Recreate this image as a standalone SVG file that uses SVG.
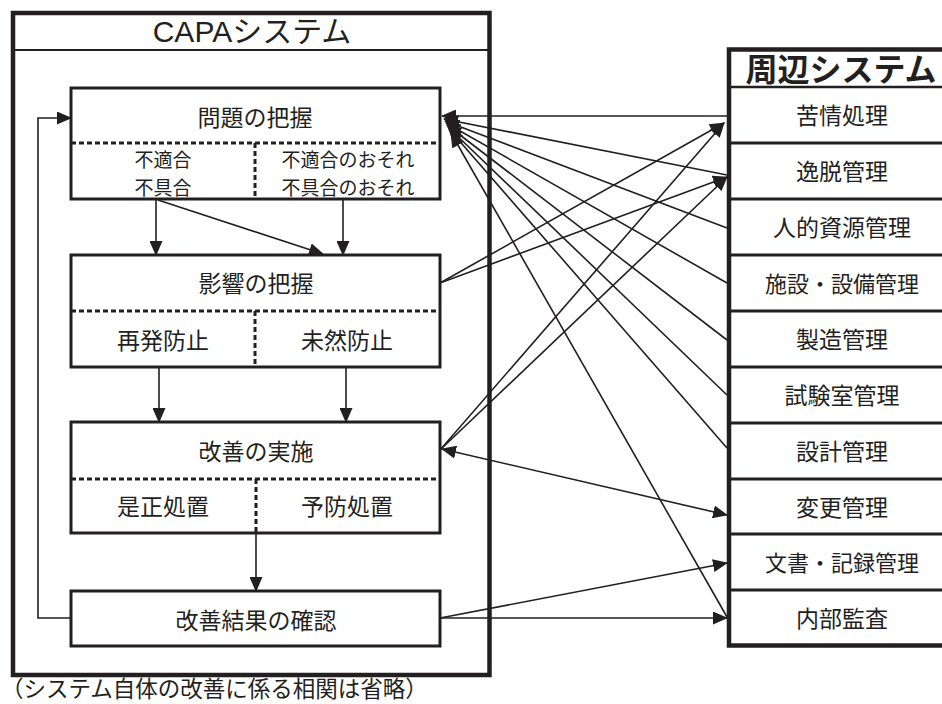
<svg xmlns="http://www.w3.org/2000/svg" width="942" height="704" viewBox="0 0 942 704">
<defs>
<marker id="ah" markerUnits="userSpaceOnUse" viewBox="0 0 15 13" refX="14" refY="6.5" markerWidth="15" markerHeight="13" orient="auto-start-reverse">
<path d="M0,0 L15,6.5 L0,13 z" fill="#231f20"/>
</marker>
</defs>
<style>
.frame{fill:none;stroke:#231f20;stroke-width:4.5}
.box{fill:#fff;stroke:#231f20;stroke-width:3}
.sep{stroke:#231f20;stroke-width:3}
.thin{stroke:#231f20;stroke-width:2}
.dot{stroke:#231f20;stroke-width:3;stroke-dasharray:5 3;fill:none}
.t{font-family:"Noto Sans CJK JP","Noto Sans CJK SC",sans-serif;font-size:23px;fill:#231f20;text-anchor:middle}
.s{font-size:19px}
.n{font-size:22px}
.c{stroke:#231f20;stroke-width:1.6;fill:none;marker-end:url(#ah)}
</style>
<rect x="0" y="0" width="942" height="704" fill="#fff"/>

<g id="capa-system">
<rect class="frame" x="13" y="13" width="476.5" height="662"/>
<line class="thin" x1="13" y1="50" x2="489.5" y2="50"/>
<text x="252" y="42" style="font-family:'Liberation Sans','Noto Sans CJK JP',sans-serif;font-size:30px;fill:#231f20;text-anchor:middle">CAPAシステム</text>
</g>

<g id="surrounding-system">
<rect class="frame" x="729" y="49.5" width="220" height="596"/>
<line class="thin" x1="729" y1="87" x2="945" y2="87" style="stroke-width:2.5"/>
<text x="841" y="81" style="font-family:'Noto Sans CJK JP',sans-serif;font-size:32px;font-weight:bold;fill:#231f20;text-anchor:middle">周辺システム</text>
<line class="sep" x1="729" y1="143" x2="945" y2="143"/>
<line class="sep" x1="729" y1="199" x2="945" y2="199"/>
<line class="sep" x1="729" y1="255" x2="945" y2="255"/>
<line class="sep" x1="729" y1="311" x2="945" y2="311"/>
<line class="sep" x1="729" y1="367" x2="945" y2="367"/>
<line class="sep" x1="729" y1="423" x2="945" y2="423"/>
<line class="sep" x1="729" y1="479" x2="945" y2="479"/>
<line class="sep" x1="729" y1="534" x2="945" y2="534"/>
<line class="sep" x1="729" y1="590" x2="945" y2="590"/>
</g>
<g id="r-kujo"><text class="t" x="842" y="124">苦情処理</text></g>
<g id="r-itsudatsu"><text class="t" x="842" y="180">逸脱管理</text></g>
<g id="r-jinteki"><text class="t" x="842" y="236">人的資源管理</text></g>
<g id="r-shisetsu"><text class="t n" x="842" y="292">施設・設備管理</text></g>
<g id="r-seizo"><text class="t" x="842" y="348">製造管理</text></g>
<g id="r-shiken"><text class="t" x="842" y="404">試験室管理</text></g>
<g id="r-sekkei"><text class="t" x="842" y="460">設計管理</text></g>
<g id="r-henko"><text class="t" x="842" y="516">変更管理</text></g>
<g id="r-bunsho"><text class="t n" x="842" y="571">文書・記録管理</text></g>
<g id="r-naibu"><text class="t" x="842" y="627">内部監査</text></g>

<g id="n-mondai">
<rect class="box" x="71" y="88" width="369" height="111"/>
<line class="dot" x1="71" y1="143" x2="440" y2="143"/>
<line class="dot" x1="255" y1="143" x2="255" y2="199"/>
<text class="t" x="255" y="126">問題の把握</text>
<text class="t s" x="163" y="167">不適合</text>
<text class="t s" x="163" y="195">不具合</text>
<text class="t s" x="348" y="167">不適合のおそれ</text>
<text class="t s" x="348" y="195">不具合のおそれ</text>
</g>

<g id="n-eikyo">
<rect class="box" x="71" y="255" width="369" height="112"/>
<line class="dot" x1="71" y1="311" x2="440" y2="311"/>
<line class="dot" x1="255" y1="311" x2="255" y2="367"/>
<text class="t" x="256" y="292">影響の把握</text>
<text class="t" x="163" y="349">再発防止</text>
<text class="t" x="347" y="349">未然防止</text>
</g>

<g id="n-kaizen">
<rect class="box" x="71" y="422" width="369" height="111"/>
<line class="dot" x1="71" y1="479" x2="440" y2="479"/>
<line class="dot" x1="256" y1="479" x2="256" y2="533"/>
<text class="t" x="256" y="460">改善の実施</text>
<text class="t" x="163" y="515">是正処置</text>
<text class="t" x="347" y="515">予防処置</text>
</g>

<g id="n-kakunin">
<rect class="box" x="71" y="591" width="369" height="55"/>
<text class="t" x="256" y="629">改善結果の確認</text>
</g>

<g id="connectors">
<line class="c" x1="156" y1="199" x2="156" y2="255"/>
<line class="c" x1="343" y1="199" x2="343" y2="255"/>
<line class="c" x1="158" y1="200" x2="323" y2="254"/>
<line class="c" x1="159" y1="367" x2="159" y2="422"/>
<line class="c" x1="346" y1="367" x2="346" y2="422"/>
<line class="c" x1="256" y1="533" x2="256" y2="591"/>
<polyline class="c" points="71,618 38,618 38,118 71,118"/>

<line class="c" x1="728" y1="116" x2="442" y2="116"/>
<line class="c" x1="727" y1="175" x2="444" y2="119"/>
<line class="c" x1="727" y1="228" x2="445" y2="121"/>
<line class="c" x1="727" y1="283" x2="446" y2="123"/>
<line class="c" x1="727" y1="340" x2="447" y2="125"/>
<line class="c" x1="727" y1="395" x2="448" y2="127"/>
<line class="c" x1="727" y1="448" x2="449" y2="129"/>
<line class="c" x1="727" y1="617" x2="451" y2="133"/>

<line class="c" x1="440" y1="283" x2="724" y2="123"/>
<line class="c" x1="440" y1="450" x2="724" y2="123"/>
<line class="c" x1="440" y1="283" x2="727" y2="177"/>
<line class="c" x1="440" y1="450" x2="727" y2="177"/>

<line class="c" x1="442" y1="449" x2="727" y2="515" style="marker-start:url(#ah)"/>
<line class="c" x1="440" y1="618" x2="727" y2="563"/>
<line class="c" x1="440" y1="618" x2="727" y2="618"/>
</g>

<text x="1" y="697" style="font-family:'Noto Sans CJK JP',sans-serif;font-size:22.5px;fill:#231f20">（システム自体の改善に係る相関は省略）</text>
</svg>
